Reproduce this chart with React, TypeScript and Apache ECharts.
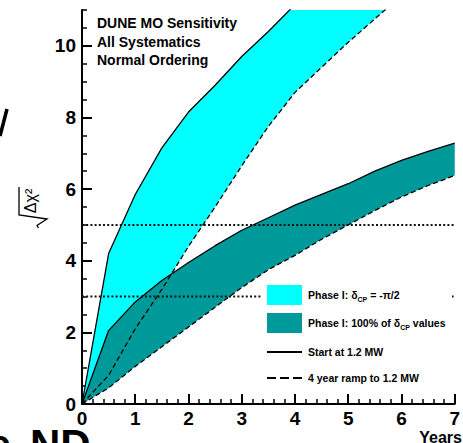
import React, { useEffect, useRef } from "react";
import * as echarts from "echarts";

// ---- data ----
const cyanSolidX = [0, 0.5, 1, 1.5, 2, 2.5, 3, 3.5, 4];
const cyanSolidY = [0, 4.2, 5.85, 7.15, 8.15, 8.9, 9.7, 10.4, 11.15];
const cyanDashX = [0, 0.5, 1, 1.5, 2, 2.5, 3, 3.5, 4, 4.5, 5, 5.5, 6];
const cyanDashY = [0, 0.8, 2.1, 3.2, 4.4, 5.5, 6.65, 7.75, 8.7, 9.4, 10.1, 10.75, 11.4];
const tealSolidX = [0, 0.5, 1, 1.5, 2, 2.5, 3, 3.5, 4, 4.5, 5, 5.5, 6, 6.5, 7];
const tealSolidY = [0, 2.05, 2.85, 3.45, 3.95, 4.42, 4.85, 5.2, 5.55, 5.85, 6.15, 6.5, 6.8, 7.05, 7.28];
const tealDashX = [0, 0.5, 1, 1.5, 2, 2.5, 3, 3.5, 4, 4.5, 5, 5.5, 6, 6.5, 7];
const tealDashY = [0, 0.45, 1.05, 1.6, 2.15, 2.7, 3.25, 3.75, 4.15, 4.6, 5.0, 5.4, 5.78, 6.1, 6.38];
const thresholds = [3, 5];
const yMajorTicks = [0, 2, 4, 6, 8, 10];
const headerLines = ["DUNE MO Sensitivity", "All Systematics", "Normal Ordering"];
const legendLabels = [
  "Phase I: δ{s|CP} = -π/2",
  "Phase I: 100% of δ{s|CP} values",
  "Start at 1.2 MW",
  "4 year ramp to 1.2 MW",
];

const FONT = "'Liberation Sans', Arial, Helvetica, sans-serif";
const CYAN = "#00ffff";
const TEAL = "#009999";
const GRID = { left: 82, right: 1, top: 10, bottom: 39 };

const pairs = (xs: number[], ys: number[]) => xs.map((x, i) => [x, ys[i]]);

function bandSeries(upX: number[], upY: number[], loX: number[], loY: number[], color: string) {
  return {
    type: "custom",
    clip: true,
    silent: true,
    z: 1,
    data: [[0, 0]],
    renderItem: (_p: any, api: any) => {
      const pts: number[][] = [];
      upX.forEach((x, i) => pts.push(api.coord([x, upY[i]])));
      for (let i = loX.length - 1; i >= 0; i--) pts.push(api.coord([loX[i], loY[i]]));
      return { type: "polygon", shape: { points: pts }, style: { fill: color } };
    },
  };
}

function lineSeries(xs: number[], ys: number[], dashed: boolean) {
  return {
    type: "line",
    data: pairs(xs, ys),
    showSymbol: false,
    symbol: "none",
    clip: true,
    z: 3,
    silent: true,
    lineStyle: { color: "#000", width: 1.3, type: dashed ? [5, 3] : "solid" },
  };
}

export default function App() {
  const ref = useRef<HTMLDivElement>(null);
  useEffect(() => {
    if (!ref.current) return;
    const chart = echarts.init(ref.current, null, { renderer: "svg" });
    const series: any[] = [
      bandSeries(cyanSolidX, cyanSolidY, cyanDashX, cyanDashY, CYAN),
      bandSeries(tealSolidX, tealSolidY, tealDashX, tealDashY, TEAL),
      lineSeries(cyanSolidX, cyanSolidY, false),
      lineSeries(cyanDashX, cyanDashY, true),
      lineSeries(tealSolidX, tealSolidY, false),
      lineSeries(tealDashX, tealDashY, true),
      ...thresholds.map((t) => ({
        type: "line",
        data: [
          [0, t],
          [7, t],
        ],
        showSymbol: false,
        symbol: "none",
        z: 4,
        silent: true,
        lineStyle: { color: "#111", width: 2, type: [2, 2.2] },
      })),
    ];

    const legendX = 267;
    const legendRows = [295, 323, 352, 378];
    const graphic: any[] = [
      { type: "rect", z: 100, shape: { x: 262, y: 280, width: 190, height: 113 }, style: { fill: "#fff" } },
      { type: "rect", z: 101, shape: { x: legendX, y: 285, width: 35, height: 20 }, style: { fill: CYAN } },
      { type: "rect", z: 101, shape: { x: legendX, y: 313, width: 35, height: 20 }, style: { fill: TEAL } },
      {
        type: "line",
        z: 101,
        shape: { x1: legendX, y1: legendRows[2], x2: legendX + 35, y2: legendRows[2] },
        style: { stroke: "#000", lineWidth: 2 },
      },
      {
        type: "line",
        z: 101,
        shape: { x1: legendX, y1: legendRows[3], x2: legendX + 35, y2: legendRows[3] },
        style: { stroke: "#000", lineWidth: 2, lineDash: [9, 4] },
      },
      ...legendLabels.map((t, i) => ({
        type: "text",
        z: 102,
        x: 308,
        y: legendRows[i],
        style: {
          text: t,
          fill: "#000",
          fontFamily: FONT,
          fontWeight: "bold",
          fontSize: 10.5,
          verticalAlign: "middle",
          align: "left",
          rich: {
            s: { fontFamily: FONT, fontWeight: "bold", fontSize: 7, verticalAlign: "bottom", lineHeight: 15, fill: "#000" },
          },
        },
      })),
      ...headerLines.map((t, i) => ({
        type: "text",
        z: 102,
        x: 97,
        y: 23 + i * 18.5,
        style: {
          text: t,
          fill: "#000",
          fontFamily: FONT,
          fontWeight: "bold",
          fontSize: 14,
          verticalAlign: "middle",
          align: "left",
        },
      })),
      // y-axis title: sqrt(Δχ²), rotated
      {
        type: "text",
        z: 102,
        x: 30,
        y: 201,
        rotation: Math.PI / 2,
        style: {
          text: "Δχ²",
          fill: "#000",
          fontFamily: FONT,
          fontSize: 16,
          align: "center",
          verticalAlign: "middle",
        },
      },
      {
        type: "polyline",
        z: 102,
        shape: { points: [[19, 187], [19, 215], [47, 219], [37, 225.5], [38.5, 228]] },
        style: { stroke: "#000", lineWidth: 1.3, fill: null },
      },
      {
        type: "text",
        z: 102,
        x: 462,
        y: 437,
        style: {
          text: "Years",
          fill: "#000",
          fontFamily: FONT,
          fontWeight: "bold",
          fontSize: 16,
          align: "right",
          verticalAlign: "middle",
        },
      },
      {
        type: "line",
        z: 102,
        shape: { x1: 7, y1: 109, x2: 0, y2: 136 },
        style: { stroke: "#000", lineWidth: 3.5 },
      },
      {
        type: "text",
        z: 102,
        x: 30,
        y: 444,
        style: { text: "ND", fill: "#000", fontFamily: FONT, fontWeight: "bold", fontSize: 42, align: "left", verticalAlign: "middle" },
      },
      {
        type: "text",
        z: 102,
        x: 11,
        y: 444,
        style: { text: "e", fill: "#000", fontFamily: FONT, fontWeight: "bold", fontSize: 42, align: "right", verticalAlign: "middle" },
      },
    ];

    chart.setOption({
      animation: false,
      backgroundColor: "#fff",
      grid: [
        { ...GRID, containLabel: false },
        { ...GRID, containLabel: false },
      ],
      xAxis: [
        {
          gridIndex: 0,
          type: "value",
          min: 0,
          max: 7,
          interval: 1,
          axisLine: { show: true, onZero: false, lineStyle: { color: "#000", width: 2 } },
          axisTick: { show: true, inside: true, length: 10, lineStyle: { color: "#000", width: 2 } },
          minorTick: { show: true, splitNumber: 5, length: 5, lineStyle: { color: "#000", width: 1.5 } },
          splitLine: { show: false },
          minorSplitLine: { show: false },
          axisLabel: {
            show: true,
            margin: 5,
            color: "#000",
            fontFamily: FONT,
            fontWeight: "bold",
            fontSize: 19,
          },
        },
        { gridIndex: 1, type: "value", min: 0, max: 7, show: false },
      ],
      yAxis: [
        {
          gridIndex: 0,
          type: "value",
          min: 0,
          max: 11,
          interval: 0.5,
          position: "left",
          axisLine: { show: true, onZero: false, lineStyle: { color: "#000", width: 2 } },
          axisTick: { show: true, inside: true, length: 5, lineStyle: { color: "#000", width: 1.5 } },
          splitLine: { show: false },
          axisLabel: {
            show: true,
            margin: 6,
            color: "#000",
            fontFamily: FONT,
            fontWeight: "bold",
            fontSize: 19,
            formatter: (v: number) => (yMajorTicks.indexOf(Math.round(v * 1000) / 1000) >= 0 ? String(v) : ""),
          },
        },
        {
          gridIndex: 1,
          type: "value",
          min: 0,
          max: 11,
          interval: 2,
          position: "left",
          axisLine: { show: false },
          axisTick: { show: true, inside: true, length: 10, customValues: yMajorTicks, lineStyle: { color: "#000", width: 2 } },
          axisLabel: { show: false },
          splitLine: { show: false },
        },
      ],
      series,
      graphic,
    });
    return () => chart.dispose();
  }, []);
  return <div ref={ref} style={{ position: "absolute", left: 0, top: 0, width: 463, height: 443 }} />;
}
